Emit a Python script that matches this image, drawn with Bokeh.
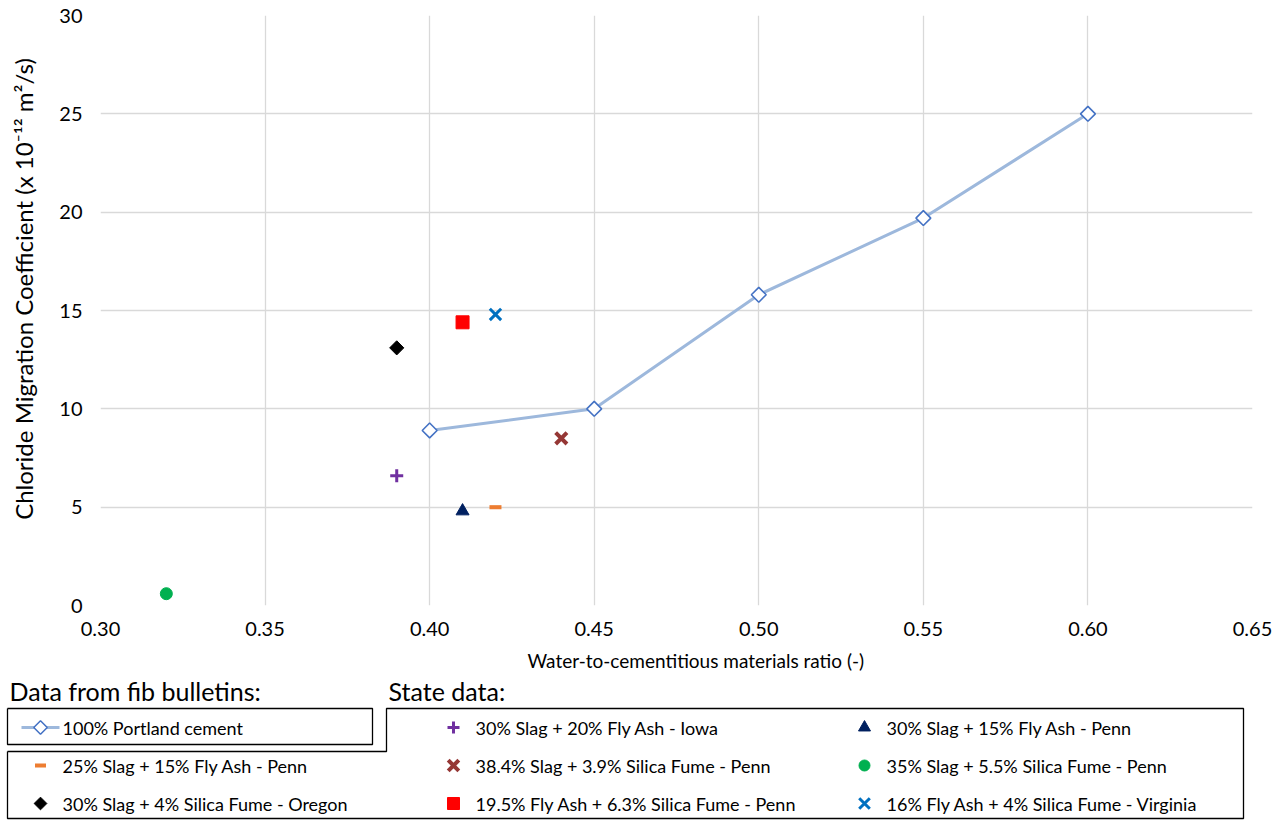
import math
from bokeh.plotting import figure
from bokeh.models import Range1d, FixedTicker, CustomJSTickFormatter
from bokeh.layouts import column
from bokeh.embed import file_html
from bokeh.resources import INLINE
from bokeh.core.properties import value

FONT = "Lato"

# ---------------- data ----------------
portland_wc = [0.40, 0.45, 0.50, 0.55, 0.60]
portland_cm = [8.9, 10.0, 15.8, 19.7, 25.0]

state_names = [
    "30% Slag + 20% Fly Ash - Iowa",
    "30% Slag + 15% Fly Ash - Penn",
    "25% Slag + 15% Fly Ash - Penn",
    "38.4% Slag + 3.9% Silica Fume - Penn",
    "35% Slag + 5.5% Silica Fume - Penn",
    "30% Slag + 4% Silica Fume - Oregon",
    "19.5% Fly Ash + 6.3% Silica Fume - Penn",
    "16% Fly Ash + 4% Silica Fume - Virginia",
]
state_wc = [0.39, 0.41, 0.42, 0.44, 0.32, 0.39, 0.41, 0.42]
state_cm = [6.6, 4.8, 5.0, 8.5, 0.6, 13.1, 14.4, 14.8]

x_ticks = [0.30, 0.35, 0.40, 0.45, 0.50, 0.55, 0.60, 0.65]
y_ticks = [0, 5, 10, 15, 20, 25, 30]

# styles
markers = ["cross", "triangle", "dash", "x", "circle", "square", "square", "x"]
colors = ["#7030a0", "#002060", "#ed7d31", "#953735", "#00b050", "#000000", "#ff0000", "#0070c0"]
sizes = [13, 13, 12, 16, 12, 10, 13, 16]
lwidths = [3, 1, 4, 4, 1, 1, 1, 3]
angles = [0, 0, 0, 0, 0, math.pi / 4, 0, 0]

NB = "\u00a0"

# ---------------- main chart ----------------
W = 1285
p = figure(width=W, height=674, output_backend="svg", toolbar_location=None,
           x_range=Range1d(0.30, 0.65), y_range=Range1d(0, 30),
           min_border_left=100, min_border_right=33, min_border_top=15, min_border_bottom=68)
p.outline_line_color = None
p.background_fill_color = "white"
p.border_fill_color = "white"

for ax in (p.xaxis[0], p.yaxis[0]):
    ax.axis_line_color = None
    ax.major_tick_line_color = None
    ax.minor_tick_line_color = None
    ax.major_tick_out = 0
    ax.major_tick_in = 0
    ax.major_label_text_font = FONT
    ax.major_label_text_font_size = "20px"
    ax.major_label_text_color = "#000000"
    ax.axis_label_text_font = FONT
    ax.axis_label_text_font_style = "normal"
    ax.axis_label_text_color = "#000000"

p.xaxis.axis_label_text_font_size = "19px"
p.yaxis.axis_label_text_font_size = "24px"
p.xaxis.ticker = FixedTicker(ticks=x_ticks)
p.yaxis.ticker = FixedTicker(ticks=y_ticks)
p.xaxis.formatter = CustomJSTickFormatter(code="return tick.toFixed(2);")
p.yaxis.formatter = CustomJSTickFormatter(code="return tick.toFixed(0);")
p.xaxis.axis_label = NB * 8 + "Water-to-cementitious materials ratio (-)"
p.yaxis.axis_label = NB * 7 + "Chloride Migration Coefficient (x 10\u207b\u00b9\u00b2 m\u00b2/s)"
p.xaxis.major_label_standoff = 16
p.yaxis.major_label_standoff = 18
p.xaxis.axis_label_standoff = 10
p.yaxis.axis_label_standoff = 18

p.xgrid.grid_line_color = "#d9d9d9"
p.ygrid.grid_line_color = "#d9d9d9"
p.xgrid.grid_line_width = 1.3
p.ygrid.grid_line_width = 1.3

LINE_COL = "#9db8dc"
DIA_COL = "#4472c4"
p.line(portland_wc, portland_cm, line_color=LINE_COL, line_width=3)
p.scatter(portland_wc, portland_cm, marker="square", angle=math.pi / 4, size=10.5,
          fill_color="white", line_color=DIA_COL, line_width=1.6)

for i in range(len(state_names)):
    p.scatter([state_wc[i]], [state_cm[i]], marker=markers[i], size=sizes[i], angle=angles[i],
              fill_color=colors[i], line_color=colors[i], line_width=lwidths[i])

# ---------------- legend area ----------------
L = figure(width=W, height=147, output_backend="svg", toolbar_location=None,
           x_range=Range1d(0, W), y_range=Range1d(821, 674),
           x_axis_location=None, y_axis_location=None,
           min_border=0, min_border_left=0, min_border_right=0,
           min_border_top=0, min_border_bottom=0)
L.grid.visible = False
L.outline_line_color = None
L.background_fill_color = "white"
L.border_fill_color = "white"
try:
    p.frame_align = False
    L.frame_align = False
except Exception:
    pass

# headers
L.text(x=[9, 388], y=[690, 690], text=["Data from fib bulletins:", "State data:"],
       text_font=value(FONT), text_font_size="25px", text_baseline="middle",
       text_color="#000000")

# box outlines
L.line([7, 372, 372, 7, 7], [708, 708, 744, 744, 708], line_color="black", line_width=1.3)
L.line([7, 386, 386, 1243, 1243, 7, 7], [751, 751, 708, 708, 818, 818, 751],
       line_color="black", line_width=1.3)

# legend rows
rows = [727, 765, 803]
# Portland entry
L.line([21, 59], [rows[0], rows[0]], line_color=LINE_COL, line_width=3)
L.scatter([40], [rows[0]], marker="square", angle=math.pi / 4, size=9.5, fill_color="white",
          line_color=DIA_COL, line_width=1.5)
L.text(x=[62], y=[rows[0]], text=["100% Portland cement"], text_font=value(FONT),
       text_font_size="18px", text_baseline="middle", text_color="#000000")

# positions for state entries (marker x, row)
pos = [(453, 0), (864, 0), (40, 1), (453, 1), (864, 1), (40, 2), (453, 2), (864, 2)]
for i, (mx, r) in enumerate(pos):
    s = sizes[i] - 1
    L.scatter([mx], [rows[r]], marker=markers[i], size=s, angle=angles[i], fill_color=colors[i],
              line_color=colors[i], line_width=lwidths[i])
    L.text(x=[mx + 22], y=[rows[r]], text=[state_names[i]], text_font=value(FONT),
           text_font_size="18px", text_baseline="middle", text_color="#000000")

layout = column(p, L, spacing=0)
open("out.html", "w").write(file_html(layout, INLINE))
